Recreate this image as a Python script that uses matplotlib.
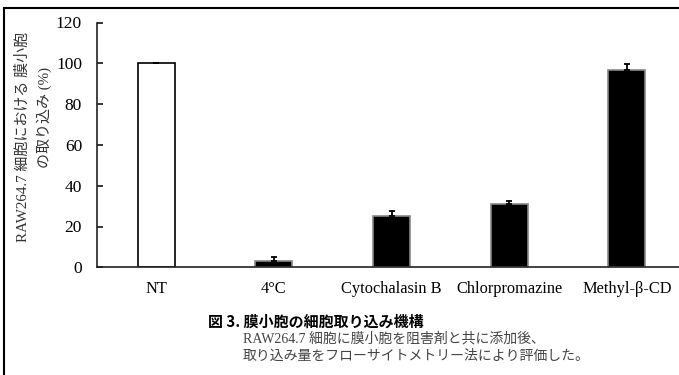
import matplotlib
matplotlib.use("Agg")
import matplotlib.pyplot as plt
from matplotlib.patches import Rectangle
import numpy as np

# data
labels = ["NT", "4°C", "Cytochalasin B", "Chlorpromazine", "Methyl-β-CD"]
uptake = [100, 2.9, 25.3, 31.0, 96.9]
err = [0, 2.0, 2.2, 1.5, 2.8]
yticks = [0, 20, 40, 60, 80, 100, 120]

serif_jp = ["Liberation Serif", "Noto Sans CJK JP"]
plt.rcParams["font.family"] = serif_jp

fig = plt.figure(figsize=(6.79, 3.75), dpi=100)
W, H = 679, 375

ax = fig.add_axes([97.3 / W, 1 - 267.3 / H, 588.5 / W, (267.3 - 22.5) / H])
x = np.arange(len(labels))
face = ["white"] + ["black"] * (len(labels) - 1)
edge = ["black"] + ["#888888"] * (len(labels) - 1)
ax.bar(x, uptake, width=0.314, color=face, edgecolor=edge, linewidth=1.2, zorder=2)
ax.errorbar(x, uptake, yerr=[np.zeros(len(err)), err], fmt="none", ecolor="black",
            elinewidth=1.3, capsize=2.5, capthick=1.3, zorder=3)

ax.set_xlim(-0.5, 4.5)
ax.set_ylim(0, 120)
ax.set_yticks(yticks)
ax.set_xticks(x)
ax.set_xticklabels(labels, fontsize=11.8)
ax.tick_params(axis="y", direction="in", length=4, width=1.1, pad=11, labelsize=12.5)
ax.tick_params(axis="x", length=0, pad=10)
for s in ["top", "right"]:
    ax.spines[s].set_visible(False)
for s in ["left", "bottom"]:
    ax.spines[s].set_linewidth(1.2)
    ax.spines[s].set_color("#222222")
ax.spines["bottom"].set_clip_on(False)

# y label, two lines as in the reference
fig.text(23 / W, 1 - 137 / H, "RAW264.7 細胞における 膜小胞", rotation=90,
         ha="center", va="center", fontsize=10.8, color="#333333", family=serif_jp)
fig.text(44 / W, 1 - 117 / H, "の取り込み (%)", rotation=90,
         ha="center", va="center", fontsize=10.8, color="#333333", family=serif_jp)

# caption
fig.text(208 / W, 1 - 322 / H, "図 3. 膜小胞の細胞取り込み機構", ha="left", va="center",
         fontsize=10.8, fontweight="bold", family=["Noto Sans CJK JP"])
fig.text(243 / W, 1 - 339 / H, "RAW264.7 細胞に膜小胞を阻害剤と共に添加後、", ha="left",
         va="center", fontsize=10, color="#444444", family=serif_jp)
fig.text(243 / W, 1 - 356 / H, "取り込み量をフローサイトメトリー法により評価した。", ha="left",
         va="center", fontsize=10, color="#444444", family=serif_jp)

# outer frame (right and bottom edges fall outside the picture)
fig.patches.append(Rectangle((4 / W, -0.1), 1.2, 1 - 8 / H + 0.1, transform=fig.transFigure,
                             fill=False, edgecolor="black", linewidth=1.5))

fig.savefig("out.png", dpi=100)
